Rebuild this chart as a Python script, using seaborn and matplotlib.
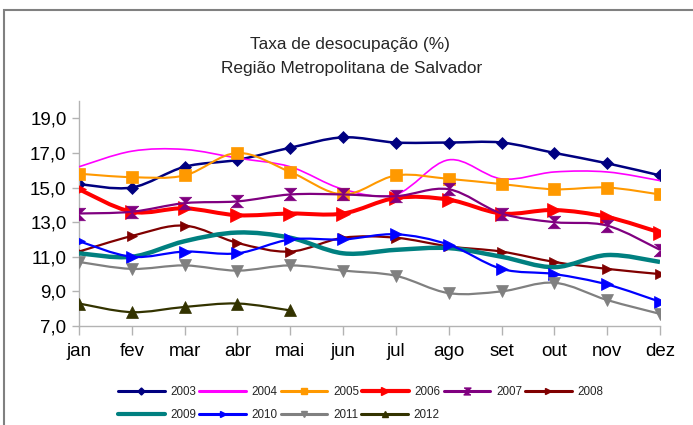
import numpy as np
import matplotlib
matplotlib.use("Agg")
import matplotlib.pyplot as plt
import seaborn as sns
from matplotlib.path import Path
from matplotlib.patches import PathPatch, Rectangle
from matplotlib.lines import Line2D

# monthly unemployment rate (%), RM Salvador
months = ["jan", "fev", "mar", "abr", "mai", "jun", "jul", "ago", "set", "out", "nov", "dez"]
years = ["2003", "2004", "2005", "2006", "2007", "2008", "2009", "2010", "2011", "2012"]

tx_2003 = [15.2, 15.0, 16.2, 16.6, 17.3, 17.9, 17.6, 17.6, 17.6, 17.0, 16.4, 15.7]
tx_2004 = [16.2, 17.1, 17.2, 16.7, 16.2, 14.9, 14.6, 16.6, 15.5, 15.9, 15.9, 15.4]
tx_2005 = [15.8, 15.6, 15.7, 17.0, 15.9, 14.6, 15.7, 15.5, 15.2, 14.9, 15.0, 14.6]
tx_2006 = [14.9, 13.6, 13.8, 13.4, 13.5, 13.5, 14.4, 14.3, 13.5, 13.7, 13.3, 12.4]
tx_2007 = [13.5, 13.6, 14.1, 14.2, 14.6, 14.6, 14.5, 14.9, 13.5, 13.0, 12.8, 11.4]
tx_2008 = [11.3, 12.2, 12.8, 11.8, 11.3, 12.1, 12.1, 11.6, 11.3, 10.7, 10.3, 10.0]
tx_2009 = [11.2, 11.0, 11.9, 12.4, 12.1, 11.2, 11.4, 11.5, 11.0, 10.4, 11.1, 10.7]
tx_2010 = [11.9, 11.0, 11.3, 11.2, 12.0, 12.0, 12.3, 11.7, 10.3, 10.0, 9.4, 8.4]
tx_2011 = [10.7, 10.3, 10.5, 10.2, 10.5, 10.2, 9.9, 8.9, 9.0, 9.5, 8.5, 7.7]
tx_2012 = [8.3, 7.8, 8.1, 8.3, 7.9]

series = [tx_2003, tx_2004, tx_2005, tx_2006, tx_2007,
          tx_2008, tx_2009, tx_2010, tx_2011, tx_2012]

hourglass = [(-1, 1), (1, 1), (-1, -1), (1, -1)]

# color, marker, marker size, line width
styles = {
    "2003": ("#000080", "D", 6.5, 1.8),
    "2004": ("#ff00ff", None, 0, 1.2),
    "2005": ("#ff9900", "s", 8.5, 1.5),
    "2006": ("#ff0000", ">", 10, 2.9),
    "2007": ("#800080", hourglass, 9, 1.6),
    "2008": ("#800000", ">", 7.5, 1.6),
    "2009": ("#008080", None, 0, 3.2),
    "2010": ("#0000ff", ">", 9, 1.6),
    "2011": ("#808080", "v", 8, 1.6),
    "2012": ("#333300", "^", 9, 1.6),
}


def smooth_path(xs, ys):
    # cubic bezier through the points (catmull-rom style), like the office "cubic spline" line
    pts = np.column_stack([xs, ys]).astype(float)
    n = len(pts)
    verts = [pts[0]]
    codes = [Path.MOVETO]
    for i in range(n - 1):
        p0 = pts[max(i - 1, 0)]
        p1 = pts[i]
        p2 = pts[i + 1]
        p3 = pts[min(i + 2, n - 1)]
        verts += [p1 + (p2 - p0) / 6, p2 - (p3 - p1) / 6, p2]
        codes += [Path.CURVE4] * 3
    return Path(verts, codes)


sns.set_theme(style="white")
plt.rcParams["font.family"] = ["Liberation Sans", "DejaVu Sans"]

fig = plt.figure(figsize=(6.93, 4.25), dpi=100)
ax = fig.add_axes([79 / 693, 1 - 326 / 425, 581 / 693, 225 / 425])

handles = []
for k, (year, vals) in enumerate(zip(years, series)):
    color, marker, ms, lw = styles[year]
    x = np.arange(len(vals))
    ax.add_patch(PathPatch(smooth_path(x, vals), fill=False, edgecolor=color,
                           lw=lw, zorder=2 + k, capstyle="butt"))
    if marker is not None:
        sns.lineplot(x=x, y=vals, ax=ax, color=color, marker=marker, markersize=ms,
                     markeredgecolor=color, markeredgewidth=0.5, linestyle="",
                     zorder=2.5 + k)
    handles.append(Line2D([], [], color=color, lw=2.2 if lw < 2.5 else 3.0,
                          marker=marker, markersize=ms * 0.55,
                          markeredgecolor=color))

ax.set_xlim(0, 11)
ax.set_ylim(7, 20)
ax.set_xticks(range(12))
ax.set_xticklabels(months)
ax.set_yticks(np.arange(7, 20, 2))
ax.set_yticklabels([f"{v:.1f}".replace(".", ",") for v in np.arange(7, 20, 2)])
ax.set_xlabel("")
ax.set_ylabel("")

for side in ["top", "right"]:
    ax.spines[side].set_visible(False)
for side in ["left", "bottom"]:
    ax.spines[side].set_color("#b3b3b3")
    ax.spines[side].set_linewidth(1.0)
ax.tick_params(axis="both", colors="#b3b3b3", labelcolor="#000000", labelsize=13.5,
               width=1.0)
ax.tick_params(axis="y", length=5, pad=4, left=True)
ax.tick_params(axis="x", length=6.5, pad=6, bottom=True)

fig.text(0.505, 1 - 45 / 425, "Taxa de desocupação (%)", ha="center", va="center",
         fontsize=12.4)
fig.text(0.508, 1 - 68 / 425, "Região Metropolitana de Salvador", ha="center",
         va="center", fontsize=12.4)

leg_kw = dict(frameon=False, borderpad=0, borderaxespad=0, handlelength=4.0,
              handletextpad=0.5, columnspacing=0.25, fontsize=8.4, loc="center left")
fig.legend(handles[:6], years[:6], ncol=6, bbox_to_anchor=(118 / 693, 1 - 392 / 425), **leg_kw)
fig.legend(handles[6:], years[6:], ncol=4, bbox_to_anchor=(118 / 693, 1 - 415 / 425), **leg_kw)

# outer chart frame
fig.patches.append(Rectangle((4 / 693, -0.1), 1.2, (415 / 425) + 0.1, transform=fig.transFigure,
                             fill=False, edgecolor="#808080", lw=1.5))

fig.savefig("out.png", dpi=100)
